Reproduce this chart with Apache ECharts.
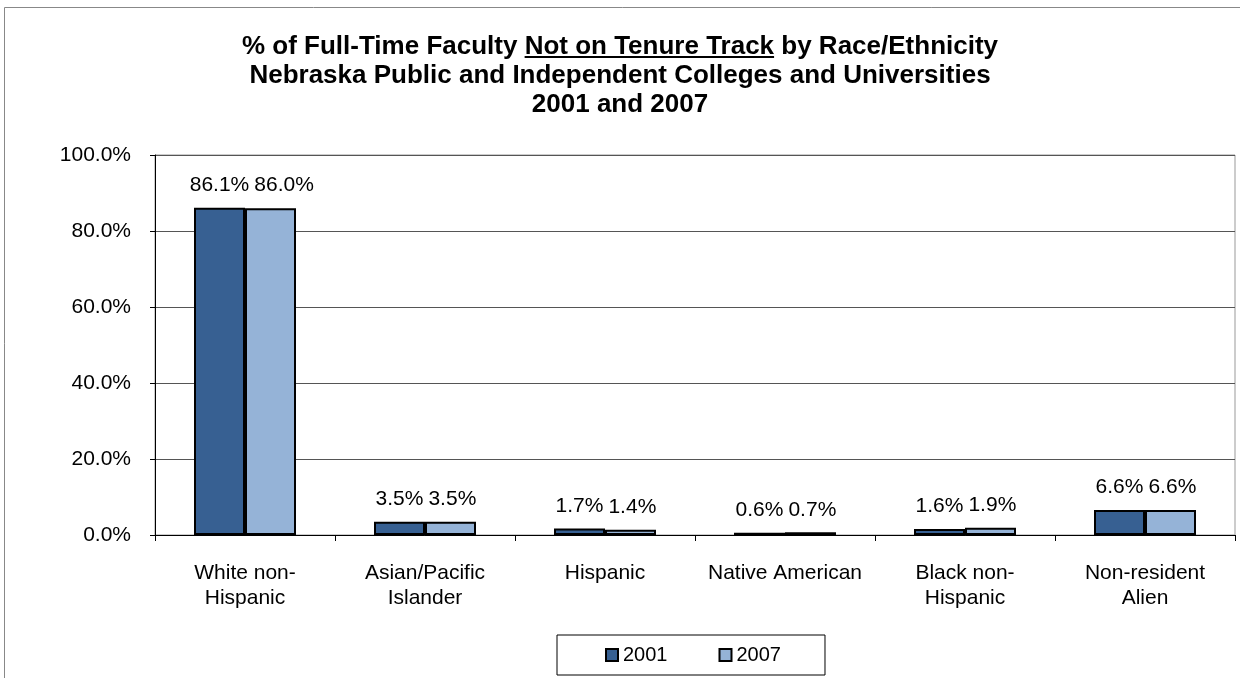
<!DOCTYPE html>
<html>
<head>
<meta charset="utf-8">
<title>Faculty Not on Tenure Track</title>
<script src="https://cdn.jsdelivr.net/npm/echarts@6/dist/echarts.min.js"></script>
<style>
  html, body { margin: 0; padding: 0; background: #fff; }
  #chart { width: 1240px; height: 678px; }
</style>
</head>
<body>
<div id="chart"></div>
<script>
// data
var categories = ['White non-\nHispanic', 'Asian/Pacific\nIslander', 'Hispanic', 'Native American', 'Black non-\nHispanic', 'Non-resident\nAlien']
var years = ['2001', '2007']
var values2001 = [86.1, 3.5, 1.7, 0.6, 1.6, 6.6]
var values2007 = [86.0, 3.5, 1.4, 0.7, 1.9, 6.6]
var yTicks = [0, 20, 40, 60, 80, 100]

var font = 'Liberation Sans, Arial, sans-serif'
var titlePre = '% of Full-Time Faculty '
var titleUl = 'Not on Tenure Track'
var titlePost = ' by Race/Ethnicity'
var titleSize = 26
var labelSize = 21

function pct(v) { return v.toFixed(1) + '%' }

// measure title pieces so the underline sits under the right words
var ctx = document.createElement('canvas').getContext('2d')
ctx.font = 'bold ' + titleSize + 'px ' + font
var wPre = ctx.measureText(titlePre).width
var wUl = ctx.measureText(titleUl).width
var wAll = ctx.measureText(titlePre + titleUl + titlePost).width
var ulStart = 620 - wAll / 2 + wPre

// width of the 2001 labels, used to push 2007 labels aside like excel does
ctx.font = labelSize + 'px ' + font
var w2001 = values2001.map(function(v) { return ctx.measureText(pct(v)).width })

var chart = echarts.init(document.getElementById('chart'))

function barSeries(name, data, color, layout) {
  var s = {
    name: name,
    type: 'bar',
    data: data,
    barWidth: 51,
    barGap: '0%',
    itemStyle: { color: color, borderColor: '#000', borderWidth: 2 },
    label: {
      show: true,
      position: 'top',
      distance: 12,
      fontFamily: font,
      fontSize: labelSize,
      color: '#000',
      formatter: function(p) { return pct(p.value) }
    }
  }
  if (layout) s.labelLayout = layout
  return s
}

function shift2007(p) {
  // left bar centre = this bar's left edge minus half a bar
  var leftRight = p.rect.x - p.rect.width / 2 + w2001[p.dataIndex] / 2
  var need = leftRight + 5 - p.labelRect.x
  return { dx: need > 0 ? need : 0 }
}

chart.setOption({
  animation: false,
  textStyle: { fontFamily: font },
  title: {
    text: titlePre + titleUl + titlePost + '\nNebraska Public and Independent Colleges and Universities\n2001 and 2007',
    left: 'center',
    top: 27,
    textStyle: { fontFamily: font, fontSize: titleSize, fontWeight: 'bold', color: '#000', lineHeight: 29 }
  },
  graphic: [
    { type: 'rect', silent: true, shape: { x: 4.5, y: 7.5, width: 1300, height: 700 }, style: { fill: null, stroke: '#888', lineWidth: 1 } },
    { type: 'line', silent: true, shape: { x1: ulStart, y1: 57, x2: ulStart + wUl, y2: 57 }, style: { stroke: '#000', lineWidth: 2 } }
  ],
  legend: {
    data: years,
    left: 557,
    top: 635,
    padding: [10, 44, 10, 48],
    itemGap: 51,
    itemWidth: 12,
    itemHeight: 12,
    icon: 'rect',
    borderColor: '#000',
    borderWidth: 1,
    textStyle: { fontFamily: font, fontSize: 20, color: '#000' }
  },
  grid: {
    left: 155,
    top: 155,
    right: 5,
    bottom: 143,
    show: true,
    borderColor: '#999',
    borderWidth: 1
  },
  xAxis: {
    type: 'category',
    data: categories,
    axisLine: { lineStyle: { color: '#000', width: 1 } },
    axisTick: { show: true, length: 6, lineStyle: { color: '#000' } },
    axisLabel: { fontFamily: font, fontSize: 21, color: '#000', margin: 26, lineHeight: 25, interval: 0 }
  },
  yAxis: {
    type: 'value',
    min: yTicks[0],
    max: yTicks[yTicks.length - 1],
    interval: yTicks[1] - yTicks[0],
    axisLine: { show: true, lineStyle: { color: '#000', width: 1 } },
    axisTick: { show: true, length: 5, lineStyle: { color: '#000' } },
    splitLine: { lineStyle: { color: '#555', width: 1 } },
    axisLabel: {
      fontFamily: font,
      fontSize: 21,
      color: '#000',
      margin: 24,
      formatter: function(v) { return pct(v) }
    }
  },
  series: [
    barSeries(years[0], values2001, '#376092'),
    barSeries(years[1], values2007, '#95B3D7', shift2007)
  ]
})
</script>
</body>
</html>
